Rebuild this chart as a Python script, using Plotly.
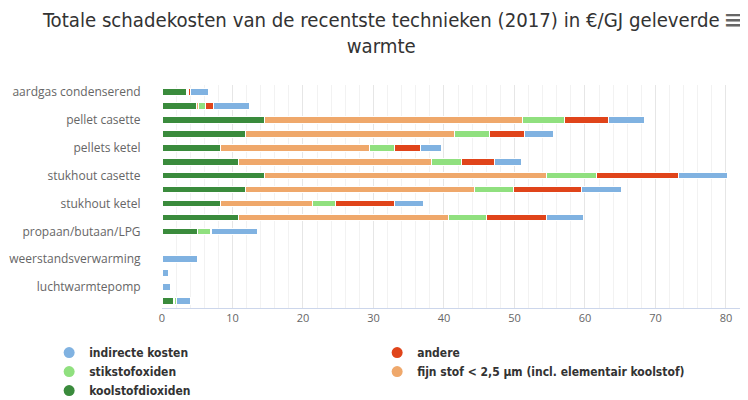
import plotly.graph_objects as go

# ---- data ----
labels = ["aardgas condenserend", "", "pellet casette", "", "pellets ketel", "",
          "stukhout casette", "", "stukhout ketel", "", "propaan/butaan/LPG", "",
          "weerstandsverwarming", "", "luchtwarmtepomp", ""]
koolstofdioxiden = [3.5, 4.9, 14.6, 11.8, 8.3, 10.9, 14.6, 11.8, 8.3, 10.9, 5.0, 0, 0, 0, 0, 1.7]
fijn_stof = [0.1, 0.3, 36.5, 29.7, 21.2, 27.3, 39.9, 32.5, 13.1, 29.8, 0.1, 0, 0, 0, 0, 0.1]
stikstofoxiden = [0.2, 1.0, 6.0, 4.9, 3.5, 4.3, 7.1, 5.6, 3.2, 5.3, 1.8, 0, 0, 0, 0, 0.2]
andere = [0.2, 1.1, 6.2, 5.0, 3.6, 4.6, 11.7, 9.6, 8.4, 8.6, 0.1, 0, 0, 0, 0, 0.1]
indirecte_kosten = [2.6, 5.1, 5.2, 4.2, 3.1, 3.9, 6.9, 5.7, 4.1, 5.2, 6.5, 0.2, 5.0, 0.9, 1.2, 2.0]
x_ticks = [0, 10, 20, 30, 40, 50, 60, 70, 80]

title_text = "Totale schadekosten van de recentste technieken (2017) in €/GJ geleverde<br>warmte"

# stacking order from the axis outward
series = [
    ("koolstofdioxiden", koolstofdioxiden, "#3A8B3C"),
    ("fijn stof < 2,5 µm (incl. elementair koolstof)", fijn_stof, "#EFA86B"),
    ("stikstofoxiden", stikstofoxiden, "#90E07F"),
    ("andere", andere, "#E0441A"),
    ("indirecte kosten", indirecte_kosten, "#80B2E1"),
]
legend_order = ["indirecte kosten", "andere", "stikstofoxiden",
                "fijn stof < 2,5 µm (incl. elementair koolstof)", "koolstofdioxiden"]
colors = {n: c for n, _, c in series}

y_pos = list(range(len(labels)))
NARROW = "DejaVu Sans Condensed, Liberation Sans Narrow, Liberation Sans, sans-serif"

fig = go.Figure()
for name, vals, col in series:
    fig.add_trace(go.Bar(
        y=y_pos, x=vals, orientation="h", name=name, showlegend=False,
        legendgroup=name, width=0.48,
        marker=dict(color=col, line=dict(color="white", width=1)),
    ))
for name in legend_order:
    fig.add_trace(go.Scatter(
        x=[None], y=[None], mode="markers", name=name, legendgroup=name,
        marker=dict(color=colors[name], size=11, symbol="circle"),
    ))

tickvals = [i for i, l in enumerate(labels) if l]
ticktext = [l for l in labels if l]

fig.update_layout(
    width=748, height=400,
    barmode="stack",
    paper_bgcolor="white", plot_bgcolor="white",
    margin=dict(l=154, r=0, t=77, b=100, autoexpand=False),
    title=dict(text=title_text, x=0.499, xanchor="center", y=0.953, yanchor="top",
               font=dict(family=NARROW, size=20.2, color="#333333")),
    font=dict(family="Open Sans", color="#666666"),
    xaxis=dict(range=[0, 84.26], tickvals=x_ticks, showgrid=True, gridcolor="#e6e6e6",
               gridwidth=1, zeroline=False, showline=True, linecolor="#ccd6eb",
               tickfont=dict(size=11, color="#666666"), ticks="", fixedrange=True,
               minor=dict(dtick=2, showgrid=True, gridcolor="#f2f2f2", gridwidth=1)),
    yaxis=dict(range=[15.5, -0.5], tickvals=tickvals, ticktext=ticktext, showgrid=False,
               zeroline=False, showline=False, ticks="outside", ticklen=18,
               tickcolor="rgba(0,0,0,0)", tickfont=dict(size=12, color="#666666")),
    legend=dict(orientation="h", xref="paper", yref="paper",
                x=-0.19, xanchor="left", y=-0.135, yanchor="top",
                entrywidth=283, entrywidthmode="pixels",
                font=dict(family=NARROW, size=12, color="#333333", weight="bold"),
                itemclick=False, tracegroupgap=0),
    annotations=[dict(text="≡", xref="paper", yref="paper", x=1.0, y=1.0,
                      xanchor="right", yanchor="middle", yshift=66, xshift=-8,
                      showarrow=False, font=dict(family="DejaVu Sans", size=28, color="#666666"))],
)

fig.write_html("out.html")
